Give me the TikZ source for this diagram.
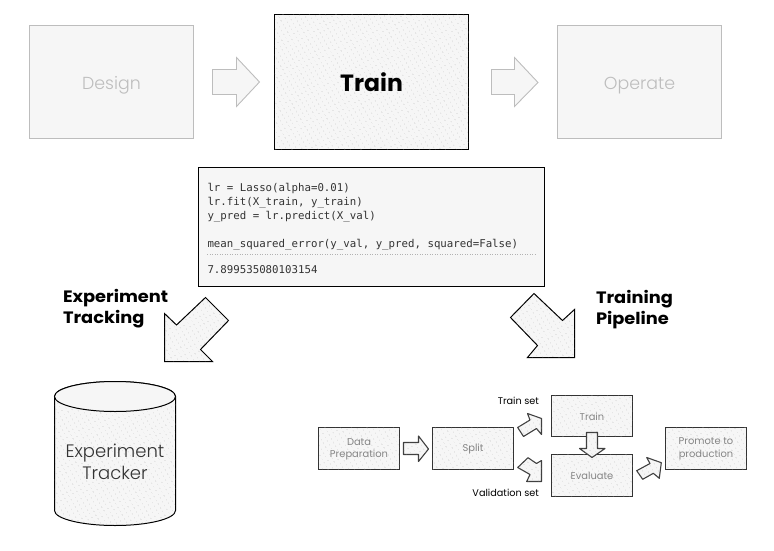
\documentclass[tikz,border=0pt]{standalone}
\usepackage{fontspec}
\setmainfont{Poppins}
\newfontfamily\codefont{DejaVu Sans Mono}
\newfontfamily\headfont[FakeStretch=1.08]{Poppins}
\newfontfamily\lightfont[UprightFont=* Light]{Poppins}
\usetikzlibrary{patterns.meta}
\definecolor{paper}{HTML}{F6F6F6}
\definecolor{faded}{HTML}{BDBDBD}
\definecolor{dotgray}{HTML}{B0B0B0}
\definecolor{midtext}{HTML}{858585}
\tikzset{
  x=1pt,y=-1pt,
  outer sep=0pt,
  dotted fill/.style={fill=paper,postaction={pattern={Dots[distance=4pt,radius=0.42pt,angle=30,xshift=0pt]},pattern color=dotgray}},
  bigbox/.style={draw=black,line width=1pt,dotted fill,inner sep=0pt,anchor=north west},
  fadedbox/.style={draw=faded,line width=1pt,fill=paper,inner sep=0pt,anchor=north west},
  fadedlabel/.style={inner sep=0pt,text=faded,font=\lightfont\fontsize{17.4}{20}\selectfont,anchor=base},
  fadedarrow/.style={draw=faded,line width=0.9pt,fill=paper,line join=miter},
  blockarrow/.style={draw=black,line width=1pt,dotted fill,line join=miter},
  smallarrow/.style={draw=black!75,line width=1.1pt,dotted fill,line join=round},
  stepbox/.style={draw=black!80,line width=1pt,dotted fill,inner sep=0pt,anchor=north west},
  steplabel/.style={inner sep=0pt,text=midtext,align=center,font=\fontsize{9.9}{12.5}\selectfont},
  headlabel/.style={anchor=north west,align=left,inner sep=0pt,font=\headfont\fontsize{16.5}{21}\selectfont\bfseries},
  setlabel/.style={anchor=east,inner sep=0pt,font=\fontsize{9.7}{10}\selectfont},
  codeline/.style={anchor=west,inner sep=0pt,text=black!80,font=\codefont\fontsize{10.75}{12}\selectfont},
}
\begin{document}
\begin{tikzpicture}
\useasboundingbox (0,0) rectangle (774,551);
% top row
\node[fadedbox,minimum width=164pt,minimum height=113pt] (design) at (29.5,25.5) {};
\node[fadedlabel] (designtext) at (111.5,89) {Design};
\node[bigbox,minimum width=194pt,minimum height=135pt,font=\fontsize{23.5}{28}\selectfont\bfseries] (train) at (274.5,14.5) {Train};
\node[fadedbox,minimum width=164pt,minimum height=113pt] (operate) at (557.5,25.5) {};
\node[fadedlabel] (operatetext) at (639.5,89) {Operate};
\draw[fadedarrow] (212.5,69.5) -- (236.5,69.5) -- (236.5,57.5) -- (259.5,82) -- (236.5,106.5) -- (236.5,94.5) -- (212.5,94.5) -- cycle;
\draw[fadedarrow] (491.5,69.5) -- (514.5,69.5) -- (514.5,57.5) -- (538,82.5) -- (514.5,106.5) -- (514.5,94.5) -- (491.5,94.5) -- cycle;
% code
\node[draw=black,line width=1pt,fill=paper,inner sep=0pt,anchor=north west,minimum width=346pt,minimum height=119pt] (code) at (198.5,167.5) {};
\node[codeline] (c1) at (207.5,188.5) {lr = Lasso(alpha=0.01)};
\node[codeline] (c2) at (207.5,202.5) {lr.fit(X\_train, y\_train)};
\node[codeline] (c3) at (207.5,216.5) {y\_pred = lr.predict(X\_val)};
\node[codeline] (c4) at (207.5,244.5) {mean\_squared\_error(y\_val, y\_pred, squared=False)};
\node[codeline] (c5) at (207.5,270) {7.899535080103154};
\coordinate (sepL) at (207,254);
\coordinate (sepR) at (536,254);
\draw[black!30,line width=0.4pt,dash pattern=on 1pt off 1.5pt] (sepL) -- (sepR);
% large diagonal arrows and labels
\node[headlabel] (tracklabel) at (63,289.5) {Experiment\\Tracking};
\node[headlabel] (pipelabel) at (596,290.5) {Training\\Pipeline};
\draw[blockarrow] (164.5,313.5) -- (176.5,325) -- (205.5,297.5) -- (228.5,320.5) -- (200.5,349.5) -- (212.5,361.5) -- (164.5,361.5) -- cycle;
\draw[blockarrow] (534,293.5) -- (562.5,320.5) -- (574.5,309.5) -- (574.5,357.5) -- (527.5,357.5) -- (537.5,345.5) -- (510.5,317.5) -- cycle;
% cylinder
\draw[black,line width=1pt,dotted fill] (54.5,396.5) -- (54.5,510.5) arc[start angle=180,end angle=360,x radius=60.5,y radius=-15] -- (175.5,396.5) arc[start angle=0,end angle=180,x radius=60.5,y radius=-15] -- cycle;
\draw[black,line width=1pt,fill=paper] (115,396.5) ellipse[x radius=60.5,y radius=15];
\node[align=center,inner sep=0pt,text=black!80,font=\lightfont\fontsize{18}{22}\selectfont] (tracker) at (115,462) {Experiment\\Tracker};
% pipeline
\node[stepbox,minimum width=81pt,minimum height=42pt] (prep) at (318.5,427.5) {};
\node[stepbox,minimum width=81pt,minimum height=42pt] (split) at (432.5,427.5) {};
\node[stepbox,minimum width=81pt,minimum height=41pt] (trainstep) at (551.5,395.5) {};
\node[stepbox,minimum width=81pt,minimum height=41.5pt] (evaluate) at (551.5,454.5) {};
\node[stepbox,minimum width=81pt,minimum height=42pt] (promote) at (665.5,427.5) {};
\node[steplabel] (preptext) at (359,449.5) {Data\\Preparation};
\node[steplabel] (splittext) at (473,449.5) {Split};
\node[steplabel] (traintext) at (592,416.5) {Train};
\node[steplabel] (evaltext) at (592,475.5) {Evaluate};
\node[steplabel] (promotetext) at (706,449) {Promote to\\production};
\node[setlabel] (trainset) at (539,401) {Train set};
\node[setlabel] (valset) at (539,493) {Validation set};
\draw[smallarrow] (403.5,442.5) -- (418.5,442.5) -- (418.5,436) -- (428.5,449) -- (418.5,461.5) -- (418.5,454.5) -- (403.5,454.5) -- cycle;
\draw[smallarrow] (517.7,427.5) -- (530,420) -- (527.5,413.5) -- (541.5,418.5) -- (541.5,434.5) -- (536.5,428.5) -- (523.5,436.5) -- cycle;
\draw[smallarrow] (517.7,467.5) -- (528,457.7) -- (536.5,463.5) -- (541.5,460.5) -- (541.5,481.5) -- (526.7,481.5) -- (530,474.5) -- cycle;
\draw[smallarrow] (586.5,432.5) -- (597.5,432.5) -- (597.5,448.5) -- (605,448.5) -- (592,457.5) -- (579.5,448.5) -- (586.5,448.5) -- cycle;
\draw[smallarrow] (636.7,470.7) -- (650,463.5) -- (646.7,457.5) -- (661.3,462.7) -- (659.3,478.3) -- (653.3,473.3) -- (642.7,479.3) -- cycle;
\end{tikzpicture}
\end{document}
